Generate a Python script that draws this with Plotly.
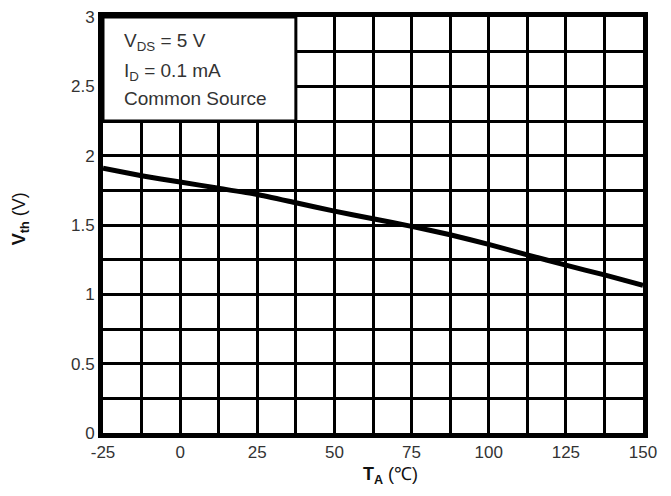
import plotly.graph_objects as go

temp_c = [-25, -12.5, 0, 12.5, 25, 37.5, 50, 62.5, 75, 87.5, 100, 112.5, 125, 137.5, 150]
vth_v = [1.91, 1.855, 1.81, 1.765, 1.72, 1.66, 1.60, 1.545, 1.49, 1.43, 1.36, 1.285, 1.21, 1.14, 1.065]

x_ticks = [-25, 0, 25, 50, 75, 100, 125, 150]
y_ticks = [0, 0.5, 1, 1.5, 2, 2.5, 3]

cond_lines = ["V<sub>DS</sub> = 5 V", "I<sub>D</sub> = 0.1 mA", "Common Source"]
cond_y = [2.82, 2.60, 2.41]

FONT = "Liberation Sans, Arial, sans-serif"

fig = go.Figure()
fig.add_trace(go.Scatter(x=temp_c, y=vth_v, mode="lines",
                         line=dict(color="black", width=5, shape="spline", smoothing=0.4),
                         showlegend=False, hoverinfo="skip"))

tickfont = dict(family=FONT, size=17, color="#333333")

fig.update_layout(
    width=655, height=480,
    margin=dict(l=95, r=20, t=9, b=55),
    paper_bgcolor="white", plot_bgcolor="white",
    xaxis=dict(range=[-25, 150], tickvals=x_ticks, ticktext=[str(v) for v in x_ticks],
               automargin=False, ticklabeloverflow="allow",
               showgrid=True, gridcolor="black", gridwidth=3,
               minor=dict(dtick=12.5, tick0=-25, showgrid=True, gridcolor="black", gridwidth=3),
               showline=True, linecolor="black", linewidth=5, mirror=True,
               ticks="", tickfont=tickfont, zeroline=False),
    yaxis=dict(range=[0, 3], tickvals=y_ticks, ticktext=[f"{v:g}" for v in y_ticks],
               automargin=False, ticklabeloverflow="allow",
               showgrid=True, gridcolor="black", gridwidth=2.5,
               minor=dict(dtick=0.25, tick0=0, showgrid=True, gridcolor="black", gridwidth=2.5),
               showline=True, linecolor="black", linewidth=5, mirror=True,
               ticks="", tickfont=tickfont, zeroline=False),
)

fig.add_shape(type="rect", xref="x", yref="y", x0=-25, x1=37.5, y0=2.25, y1=3,
              fillcolor="white", line=dict(color="black", width=3), layer="above")

for txt, yv in zip(cond_lines, cond_y):
    fig.add_annotation(xref="x", yref="y", x=-18.75, y=yv, xanchor="left", yanchor="middle",
                       align="left", showarrow=False, text=txt,
                       font=dict(family=FONT, size=19, color="#333333"))

fig.add_annotation(xref="paper", yref="paper", x=-0.1537, y=0.514, textangle=-90,
                   xanchor="center", yanchor="middle", showarrow=False,
                   text="<b>V<sub>th</sub></b> (V)",
                   font=dict(family=FONT, size=18, color="#111111"))
fig.add_annotation(xref="paper", yref="paper", x=0.533, y=-0.1322, yshift=-1,
                   xanchor="center", yanchor="bottom", showarrow=False,
                   text="<b>T<sub>A</sub></b> (℃)",
                   font=dict(family=FONT, size=18, color="#111111"))

fig.write_html("out.html")
